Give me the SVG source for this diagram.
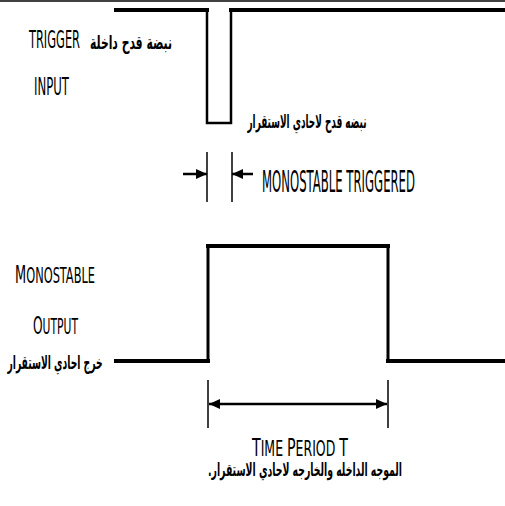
<svg xmlns="http://www.w3.org/2000/svg" width="505" height="506" viewBox="0 0 505 506">
<style>
.wave{fill:none;stroke:#000;stroke-linejoin:miter;stroke-linecap:square}
.dim{stroke:#000;stroke-width:1.5}
.arr{stroke:#000;stroke-width:2.5}
.en{font-family:"DejaVu Sans Condensed","Liberation Sans",sans-serif;fill:#000;font-weight:normal}
.ar{font-family:"DejaVu Sans","Noto Sans",sans-serif;font-weight:bold;fill:#000}
</style>
<defs>
<marker id="ah" markerUnits="userSpaceOnUse" markerWidth="12" markerHeight="12" refX="11" refY="6" orient="auto">
<path d="M0,1 L11,6 L0,11 Z" fill="#000"/>
</marker>
<marker id="ahs" markerUnits="userSpaceOnUse" markerWidth="12" markerHeight="12" refX="1" refY="6" orient="auto">
<path d="M12,1 L1,6 L12,11 Z" fill="#000"/>
</marker>
</defs>
<rect width="505" height="506" fill="#fff"/>
<line x1="0" y1="1" x2="505" y2="1" stroke="#000" stroke-width="1.5"/>

<g id="trigger-wave">
<path class="wave" d="M116,10 H207" stroke-width="4"/>
<path class="wave" d="M207,10 V123 H231 V10" stroke-width="2.5"/>
<path class="wave" d="M231,10 H505" stroke-width="4"/>
</g>

<g id="output-wave">
<path class="wave" d="M116,361 H208" stroke-width="4"/>
<path class="wave" d="M208,361 V246" stroke-width="3"/>
<path class="wave" d="M208,246 H388" stroke-width="4"/>
<path class="wave" d="M388,246 V361" stroke-width="3"/>
<path class="wave" d="M388,361 H505" stroke-width="4"/>
</g>

<g id="connectors">
<line class="dim" x1="207" y1="152" x2="207" y2="202"/>
<line class="dim" x1="232" y1="152" x2="232" y2="202"/>
<line class="arr" x1="183" y1="174" x2="207" y2="174" marker-end="url(#ah)"/>
<line class="arr" x1="253" y1="174" x2="232" y2="174" marker-end="url(#ah)"/>
<line class="dim" x1="208" y1="380" x2="208" y2="428"/>
<line class="dim" x1="388" y1="380" x2="388" y2="428"/>
<line class="arr" x1="209" y1="404" x2="387" y2="404" stroke-width="2" marker-start="url(#ahs)" marker-end="url(#ah)"/>
</g>

<g id="label-trigger-input">
<text class="en" x="29" y="48" font-size="25" textLength="51" lengthAdjust="spacingAndGlyphs">TRIGGER</text>
<text class="en" x="34" y="95" font-size="25" textLength="35" lengthAdjust="spacingAndGlyphs">INPUT</text>
<text class="ar" x="131" y="49" font-size="19" text-anchor="middle" direction="rtl" textLength="82" lengthAdjust="spacingAndGlyphs">نبضة قدح داخلة</text>
</g>

<g id="label-trigger-pulse">
<text class="ar" x="307" y="128" font-size="19" text-anchor="middle" direction="rtl" textLength="119" lengthAdjust="spacingAndGlyphs">نبضه قدح لاحادي الاستقرار</text>
</g>

<g id="label-monostable-triggered">
<text class="en" x="262" y="192" font-size="30" textLength="153" lengthAdjust="spacingAndGlyphs">MONOSTABLE TRIGGERED</text>
</g>

<g id="label-monostable-output">
<text class="en" x="15" y="283" font-size="25" textLength="80" lengthAdjust="spacingAndGlyphs">M<tspan font-size="22">ONOSTABLE</tspan></text>
<text class="en" x="33" y="334" font-size="25" textLength="45" lengthAdjust="spacingAndGlyphs">O<tspan font-size="22">UTPUT</tspan></text>
<text class="ar" x="55" y="369" font-size="19" text-anchor="middle" direction="rtl" textLength="95" lengthAdjust="spacingAndGlyphs">خرج احادي الاستقرار</text>
</g>

<g id="label-time-period">
<text class="en" x="252" y="456" font-size="25" textLength="96" lengthAdjust="spacingAndGlyphs">T<tspan font-size="22">IME </tspan>P<tspan font-size="22">ERIOD </tspan>T</text>
<text class="ar" x="305" y="476" font-size="18" text-anchor="middle" direction="rtl" textLength="194" lengthAdjust="spacingAndGlyphs">الموجه الداخله والخارجه لاحادي الاستقرار.</text>
</g>
</svg>
